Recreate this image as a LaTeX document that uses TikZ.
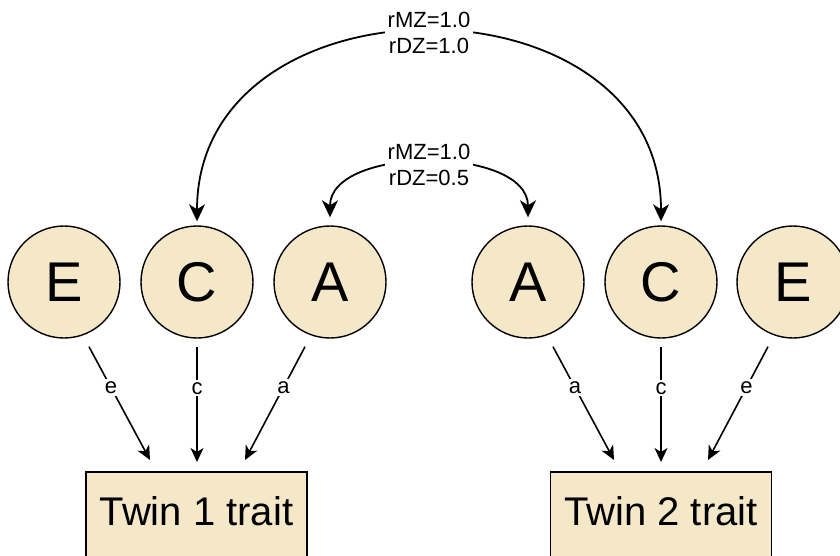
\documentclass[tikz,border=0pt]{standalone}
\usepackage{fontspec}
\setmainfont{Liberation Sans}
\usetikzlibrary{arrows.meta}
\definecolor{beige}{HTML}{F5E8C8}
\begin{document}
\begin{tikzpicture}[x=1pt,y=-1pt,
  factor/.style={circle,draw=black,line width=1.4pt,fill=beige,minimum size=112pt,inner sep=0pt,font=\fontsize{56}{60}\selectfont},
  traitbox/.style={rectangle,draw=black,line width=1.8pt,fill=beige,minimum width=221pt,minimum height=100pt,anchor=north,inner sep=0pt},
  traittext/.style={font=\fontsize{40}{44}\selectfont},
  path/.style={line width=1.6pt,-{Stealth[length=14pt,width=13pt,inset=4pt]}},
  corr/.style={line width=1.8pt,{Stealth[length=17pt,width=16pt,inset=5pt]}-{Stealth[length=17pt,width=16pt,inset=5pt]}},
  plab/.style={fill=white,inner sep=2pt,font=\fontsize{22}{26}\selectfont},
  clab/.style={fill=white,inner xsep=3pt,inner ysep=1pt,align=center,font=\fontsize{22}{26}\selectfont}
]
\useasboundingbox (0,0) rectangle (840,555);
% factors
\node[factor] (E1) at (64,282) {E};
\node[factor] (C1) at (197,282) {C};
\node[factor] (A1) at (330,282) {A};
\node[factor] (A2) at (528,282) {A};
\node[factor] (C2) at (661,282) {C};
\node[factor] (E2) at (793,282) {E};
% trait boxes
\node[traitbox] (B1) at (196.5,471) {};
\node[traittext] (T1) at ([shift={(0,40)}]B1.north) {Twin 1 trait};
\node[traitbox] (B2) at (661,471) {};
\node[traittext] (T2) at ([shift={(0,40)}]B2.north) {Twin 2 trait};
% paths twin 1
\draw[path] ([shift={(25,8)}]E1.south) -- node[plab,pos=0.36] {e} ([shift={(-46.5,-11)}]B1.north);
\draw[path] ([shift={(0,8)}]C1.south) -- node[plab,pos=0.36] {c} ([shift={(0.5,-9)}]B1.north);
\draw[path] ([shift={(-25,8)}]A1.south) -- node[plab,pos=0.36] {a} ([shift={(48.5,-11)}]B1.north);
% paths twin 2
\draw[path] ([shift={(25,8)}]A2.south) -- node[plab,pos=0.36] {a} ([shift={(-47,-11)}]B2.north);
\draw[path] ([shift={(0,8)}]C2.south) -- node[plab,pos=0.36] {c} ([shift={(0,-9)}]B2.north);
\draw[path] ([shift={(-25,8)}]E2.south) -- node[plab,pos=0.36] {e} ([shift={(47,-11)}]B2.north);
% correlations
\draw[corr,shorten <=4pt,shorten >=4pt] (C1.north) .. controls ([shift={(0,-256)}]C1.north) and ([shift={(0,-256)}]C2.north) .. node[clab,pos=0.5] {rMZ=1.0\\rDZ=1.0} (C2.north);
\draw[corr,shorten <=8pt,shorten >=8pt] (A1.north) .. controls ([shift={(0,-80)}]A1.north) and ([shift={(0,-80)}]A2.north) .. node[clab,pos=0.5] {rMZ=1.0\\rDZ=0.5} (A2.north);
\end{tikzpicture}
\end{document}
